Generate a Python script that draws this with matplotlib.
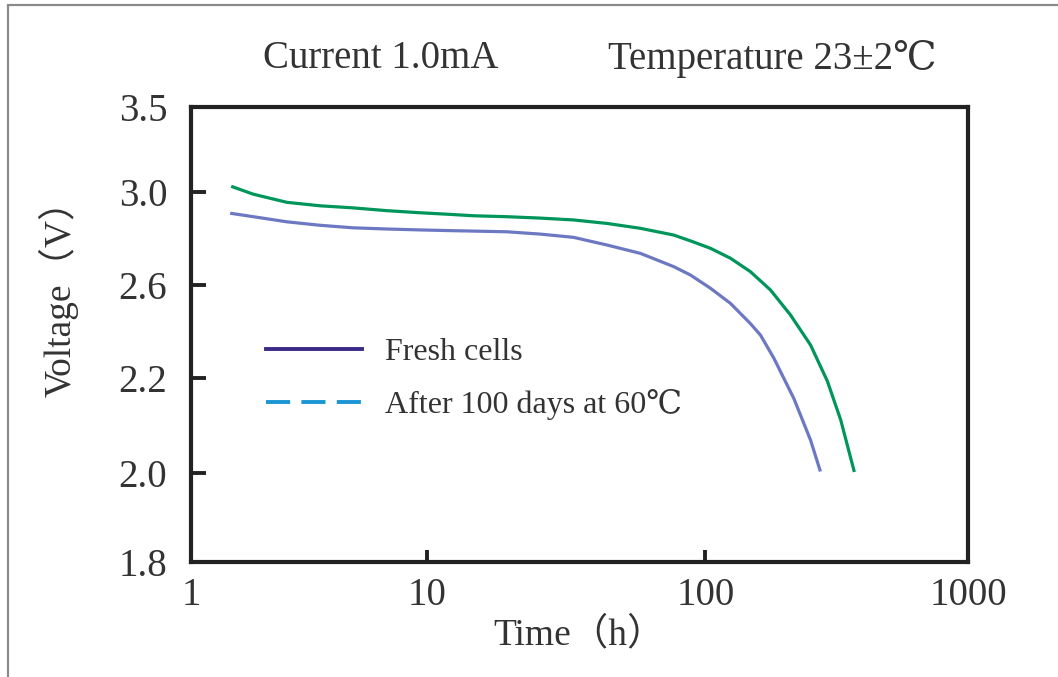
import numpy as np
import matplotlib
matplotlib.use("Agg")
import matplotlib.pyplot as plt
from matplotlib.lines import Line2D
from matplotlib.patches import Rectangle

plt.rcParams["font.family"] = ["Liberation Serif", "DejaVu Serif", "Noto Sans CJK SC"]

# data
time_green = [1.502, 1.836, 2.545, 3.52, 4.87, 6.75, 9.34, 12.1, 14.68, 19.35, 25.5, 33.6,
              44.3, 58.4, 76.9, 88.3, 104.5, 124.6, 148.5, 177.1, 211, 251.6, 291.4, 327.6, 368]
volt_green = [3.031, 2.991, 2.956, 2.941, 2.932, 2.920, 2.911, 2.904, 2.898, 2.894, 2.888, 2.880,
              2.865, 2.844, 2.815, 2.790, 2.758, 2.715, 2.657, 2.578, 2.471, 2.342, 2.194, 2.112, 2.005]

time_blue = [1.488, 1.836, 2.545, 3.52, 4.87, 6.75, 9.34, 12.1, 14.68, 19.35, 25.5, 33.6,
             44.3, 58.4, 76.9, 88.3, 104.5, 124.6, 148.5, 162.1, 182.3, 217.3, 251.6, 273.1]
volt_blue = [2.908, 2.894, 2.872, 2.857, 2.846, 2.841, 2.837, 2.834, 2.832, 2.829, 2.819, 2.805,
             2.772, 2.736, 2.679, 2.643, 2.586, 2.521, 2.434, 2.385, 2.286, 2.157, 2.069, 2.006]

legend_labels = ["Fresh cells", "After 100 days at 60℃"]

x_ticks = [1, 10, 100, 1000]
x_tick_labels = ["1", "10", "100", "1000"]
y_ticks = [1.8, 2.0, 2.2, 2.6, 3.0, 3.5]
y_tick_labels = ["1.8", "2.0", "2.2", "2.6", "3.0", "3.5"]

# the printed axes are not evenly spaced; where each tick sits (fraction of the axis)
x_frac = [0.0, 0.304, 0.662, 1.0]
y_frac = [0.0, 0.196, 0.404, 0.609, 0.813, 1.0]


def x_fwd(t):
    lt = np.log10(np.clip(t, 1e-12, None))
    return np.interp(lt, [0, 1, 2, 3], x_frac)


def x_inv(p):
    return 10 ** np.interp(p, x_frac, [0, 1, 2, 3])


def y_fwd(v):
    return np.interp(v, y_ticks, y_frac)


def y_inv(p):
    return np.interp(p, y_frac, y_ticks)


fig = plt.figure(figsize=(10.58, 6.77), dpi=100)
ax = fig.add_axes([0.1805, 0.1699, 0.7344, 0.672])

ax.set_xscale("function", functions=(x_fwd, x_inv))
ax.set_yscale("function", functions=(y_fwd, y_inv))

ax.plot(time_green, volt_green, color="#00955a", lw=2.3, solid_joinstyle="round")
ax.plot(time_blue, volt_blue, color="#6d78c2", lw=2.3, solid_joinstyle="round")

ax.set_xlim(1, 1000)
ax.set_ylim(1.8, 3.5)
ax.set_xticks(x_ticks)
ax.set_xticklabels(x_tick_labels)
ax.set_yticks(y_ticks)
ax.set_yticklabels(y_tick_labels)
ax.minorticks_off()

ax.tick_params(axis="both", direction="in", width=2.8, color="#222222",
               labelsize=28, labelcolor="#333333")
ax.tick_params(axis="y", length=11, pad=17)
ax.tick_params(axis="x", length=9, pad=11)
for s in ax.spines.values():
    s.set_linewidth(3)
    s.set_color("#222222")

ax.set_xlabel("Time（h）", fontsize=27, color="#333333", labelpad=2)
ax.set_ylabel("Voltage（V）", fontsize=27, color="#333333")
ax.yaxis.set_label_coords(-0.145, 0.60)

handles = [
    Line2D([], [], color="#3b2a86", lw=2.8),
    Line2D([], [], color="#1a96d4", lw=2.8, ls=(0, (6.2, 2.9))),
]
ax.legend(handles, legend_labels, loc="upper left", bbox_to_anchor=(0.06, 0.556),
          frameon=False, fontsize=23, handlelength=3.0, handletextpad=0.7,
          labelspacing=0.68, labelcolor="#333333")

fig.text(0.249, 0.913, "Current 1.0mA", fontsize=28, color="#333333", va="center")
fig.text(0.575, 0.913, "Temperature 23±2℃", fontsize=28, color="#333333", va="center")

# outer grey frame
fig.add_artist(Rectangle((8 / 1058, -0.1), 1.2, 1.1 - 5 / 677, transform=fig.transFigure,
                         fill=False, edgecolor="#8a8a8a", lw=1.6, clip_on=False))

fig.savefig("out.png", dpi=100)
